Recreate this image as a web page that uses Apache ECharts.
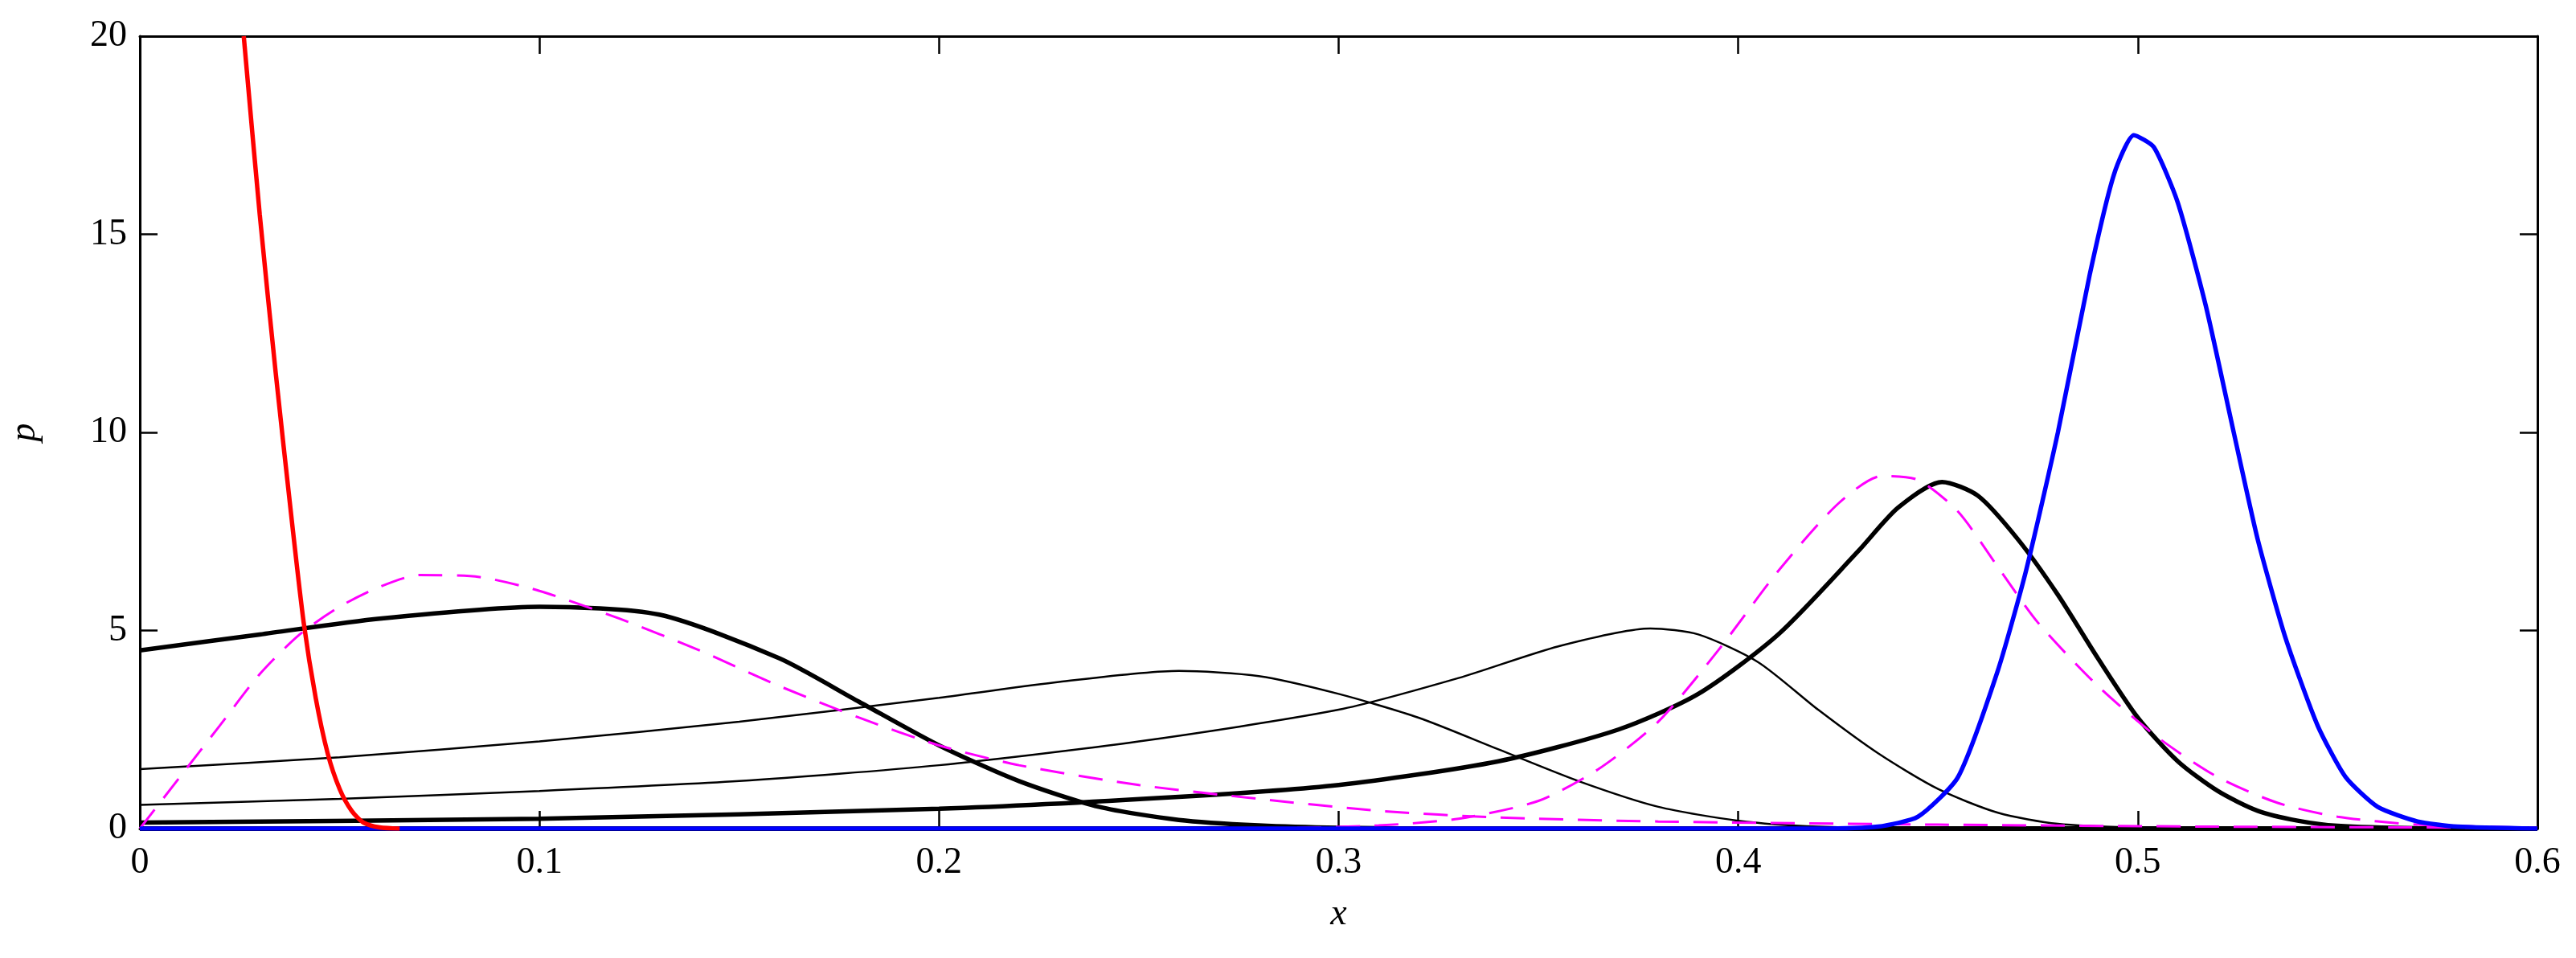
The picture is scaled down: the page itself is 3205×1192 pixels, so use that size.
<!DOCTYPE html>
<html><head><meta charset="utf-8">
<script src="https://cdn.jsdelivr.net/npm/echarts@6/dist/echarts.min.js"></script>
<style>html,body{margin:0;padding:0;background:#fff}#c{width:3205px;height:1192px}</style>
</head><body><div id="c"></div>
<script>
const xTicks = [0,0.1,0.2,0.3,0.4,0.5,0.6];
const yTicks = [0,5,10,15,20];
const redCurve = [[0.026,20],[0.03,15.5],[0.034,11.5],[0.038,7.8],[0.041,5.2],[0.044,3.3],[0.047,1.9],[0.05,1.0],[0.053,0.45],[0.056,0.15],[0.06,0.03],[0.065,0]];
const thickA = [[0,4.5],[0.03,4.9],[0.06,5.3],[0.1,5.6],[0.13,5.4],[0.16,4.3],[0.18,3.2],[0.2,2.1],[0.22,1.2],[0.24,0.55],[0.26,0.22],[0.28,0.08],[0.3,0.02],[0.33,0],[0.6,0]];
const thinB = [[0,1.5],[0.05,1.8],[0.1,2.2],[0.15,2.7],[0.2,3.3],[0.23,3.7],[0.26,3.98],[0.28,3.85],[0.3,3.4],[0.32,2.8],[0.34,2.0],[0.36,1.2],[0.38,0.55],[0.4,0.2],[0.42,0.05],[0.45,0],[0.6,0]];
const thinC = [[0,0.6],[0.05,0.75],[0.1,0.95],[0.15,1.2],[0.2,1.6],[0.25,2.2],[0.3,3.0],[0.33,3.8],[0.355,4.6],[0.378,5.05],[0.39,4.9],[0.405,4.2],[0.42,3.0],[0.435,1.9],[0.45,1.0],[0.465,0.4],[0.48,0.12],[0.5,0.02],[0.52,0],[0.6,0]];
const thickD = [[0,0.15],[0.1,0.25],[0.2,0.5],[0.26,0.8],[0.3,1.1],[0.34,1.7],[0.37,2.5],[0.39,3.4],[0.41,4.9],[0.43,7.0],[0.44,8.1],[0.451,8.75],[0.46,8.4],[0.47,7.3],[0.48,5.9],[0.49,4.3],[0.5,2.8],[0.51,1.7],[0.52,0.95],[0.53,0.45],[0.54,0.2],[0.55,0.07],[0.57,0.01],[0.6,0]];
const blueCurve = [[0,0],[0.42,0],[0.435,0.05],[0.445,0.3],[0.455,1.3],[0.465,4.0],[0.472,6.5],[0.48,10.0],[0.488,14.0],[0.494,16.5],[0.499,17.5],[0.504,17.2],[0.51,15.8],[0.517,13.2],[0.524,10.0],[0.53,7.3],[0.537,4.8],[0.545,2.6],[0.552,1.3],[0.56,0.55],[0.57,0.18],[0.58,0.05],[0.6,0]];
const magentaA = [[0,0],[0.01,1.3],[0.02,2.6],[0.03,3.9],[0.04,4.9],[0.05,5.6],[0.06,6.1],[0.07,6.4],[0.085,6.35],[0.1,6.0],[0.12,5.3],[0.14,4.5],[0.16,3.6],[0.18,2.8],[0.2,2.1],[0.22,1.6],[0.25,1.1],[0.28,0.75],[0.31,0.45],[0.34,0.28],[0.38,0.18],[0.45,0.1],[0.52,0.05],[0.6,0.02]];
const magentaB = [[0,0],[0.28,0],[0.31,0.08],[0.33,0.25],[0.35,0.7],[0.365,1.5],[0.38,2.7],[0.395,4.5],[0.41,6.5],[0.425,8.2],[0.436,8.9],[0.445,8.8],[0.455,8.0],[0.465,6.6],[0.475,5.2],[0.49,3.6],[0.505,2.3],[0.52,1.3],[0.535,0.65],[0.55,0.3],[0.57,0.1],[0.6,0.02]];
const zeroLine = [[0,0],[0.6,0]];

const font = 'Liberation Serif';
function s(data, color, width, dash, z, sm){
  return {type:'line', data, smooth:sm===undefined?0.25:sm, showSymbol:false, symbol:'none', clip:true, z:z||2,
    lineStyle:{color, width, type: dash? [30,18] : 'solid'}};
}
function ax(extra){
  return Object.assign({
    axisLine:{show:true, onZero:false, lineStyle:{color:'#000', width:3}},
    axisTick:{show:true, inside:true, length:22, lineStyle:{color:'#000', width:2.5}},
    splitLine:{show:false}}, extra);
}
const lbl = {color:'#000', fontFamily:font, fontSize:46};
const chart = echarts.init(document.getElementById('c'));
chart.setOption({
  animation:false,
  grid:{left:168, right:48, top:45, bottom:161},
  xAxis:[ax({type:'value', min:0, max:0.6, interval:0.1,
    axisLabel:Object.assign({margin:20, formatter:v=>String(+v.toFixed(1))}, lbl),
    name:'x', nameLocation:'middle', nameGap:84, nameTextStyle:Object.assign({fontStyle:'italic'}, lbl)}),
    ax({type:'value', position:'top', min:0, max:0.6, interval:0.1, axisLabel:{show:false}})],
  yAxis:[ax({type:'value', min:0, max:20, interval:5,
    axisLabel:Object.assign({margin:16}, lbl),
    name:'p', nameLocation:'middle', nameGap:120, nameRotate:90, nameTextStyle:Object.assign({fontStyle:'italic'}, lbl)}),
    ax({type:'value', position:'right', min:0, max:20, interval:5, axisLabel:{show:false}})],
  series:[
    s(zeroLine,'#000',6,false,1),
    s(thinB,'#000',2.5),
    s(thinC,'#000',2.5),
    s(thickA,'#000',5.5),
    s(thickD,'#000',5.5),
    s(magentaA,'#ff00ff',3,true),
    s(magentaB,'#ff00ff',3,true),
    s(blueCurve,'#0000ff',5.5,false,2,0.2),
    s(redCurve,'#ff0000',5.5,false,3)
  ]
});
</script></body></html>
